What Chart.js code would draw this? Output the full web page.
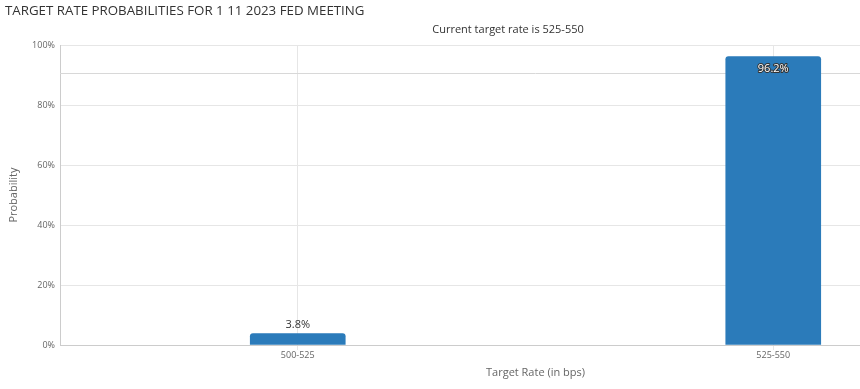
<!DOCTYPE html>
<html>
<head>
<meta charset="utf-8">
<script src="https://cdn.jsdelivr.net/npm/chart.js@4.4.1/dist/chart.umd.min.js"></script>
<style>
  html, body { margin: 0; padding: 0; background: #fff; overflow: hidden; }
  #wrap { width: 860px; height: 389px; overflow: hidden; }
</style>
</head>
<body>
<div id="wrap"><canvas id="chart" width="1020" height="389"></canvas></div>
<script>
/* DATA */
const rates = ["500-525", "525-550"];
const probabilities = [3.8, 96.2];
const yTicks = [0, 20, 40, 60, 80, 100];
const refLine = 90.7;

const FONT = "'Open Sans', 'Noto Sans', sans-serif";

/* value labels + reference line */
const labelsPlugin = {
    id: "labels",
    beforeDatasetsDraw(chart) {
        const { ctx, chartArea, scales } = chart;
        const y = Math.round(scales.y.getPixelForValue(refLine)) + 0.5;
        ctx.save();
        ctx.strokeStyle = "#d8d8d8";
        ctx.lineWidth = 1;
        ctx.beginPath();
        ctx.moveTo(chartArea.left, y);
        ctx.lineTo(chartArea.right, y);
        ctx.stroke();
        ctx.restore();
    },
    afterDatasetsDraw(chart) {
        const { ctx } = chart;
        const meta = chart.getDatasetMeta(0);
        ctx.save();
        ctx.font = "11px " + FONT;
        ctx.textAlign = "center";
        ctx.textBaseline = "middle";
        meta.data.forEach((bar, i) => {
            const v = probabilities[i];
            const txt = v + "%";
            if (v > 50) {
                ctx.lineWidth = 2;
                ctx.strokeStyle = "#333";
                ctx.lineJoin = "round";
                ctx.strokeText(txt, bar.x, bar.y + 12);
                ctx.fillStyle = "#fff";
                ctx.fillText(txt, bar.x, bar.y + 12);
            } else {
                ctx.fillStyle = "#333";
                ctx.fillText(txt, bar.x, bar.y - 9);
            }
        });
        ctx.restore();
    }
};

new Chart(document.getElementById("chart"), {
    type: "bar",
    data: {
        labels: rates,
        datasets: [{
            data: probabilities,
            backgroundColor: "#2b7bba",
            borderRadius: { topLeft: 3, topRight: 3 },
            borderSkipped: "bottom",
            barThickness: 95
        }]
    },
    options: {
        responsive: false,
        animation: false,
        layout: { padding: { left: 5, right: 9, top: 0, bottom: 0 } },
        plugins: {
            legend: { display: false },
            tooltip: { enabled: false },
            title: {
                display: true,
                text: "TARGET RATE PROBABILITIES FOR 1 11 2023 FED MEETING",
                align: "start",
                color: "#333",
                font: { family: FONT, size: 13.3, weight: "normal" },
                padding: { top: 3, bottom: 4 }
            },
            subtitle: {
                display: true,
                text: "Current target rate is 525-550",
                color: "#333",
                font: { family: FONT, size: 11 },
                padding: { top: 0, bottom: 9 }
            }
        },
        scales: {
            x: {
                grid: { color: "#e6e6e6", offset: false, tickLength: 5 },
                border: { color: "#ccc" },
                ticks: { color: "#666", font: { family: FONT, size: 9 }, padding: 0 },
                title: {
                    display: true,
                    text: "Target Rate (in bps)",
                    color: "#666",
                    font: { family: FONT, size: 11 },
                    padding: { top: 0, bottom: 10 }
                },
                afterFit(scale) { scale.height = 44; }
            },
            y: {
                min: 0,
                max: 100,
                afterBuildTicks(scale) { scale.ticks = yTicks.map(v => ({ value: v })); },
                grid: { color: "#e6e6e6", drawTicks: false },
                border: { color: "#ccc" },
                ticks: {
                    color: "#666",
                    font: { family: FONT, size: 9 },
                    padding: 5,
                    callback: v => v + "%"
                },
                title: {
                    display: true,
                    text: "Probability",
                    color: "#666",
                    font: { family: FONT, size: 11 },
                    padding: { top: 2.5, bottom: 8 }
                },
                afterFit(scale) { scale.width = 55; }
            }
        }
    },
    plugins: [labelsPlugin]
});
</script>
</body>
</html>
